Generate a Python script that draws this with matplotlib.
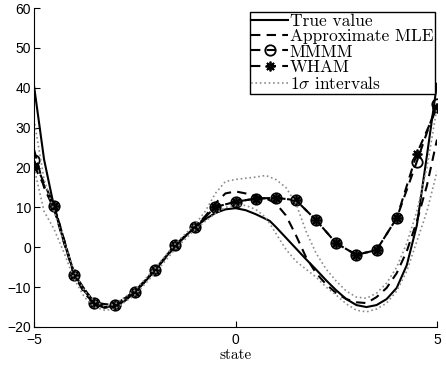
import matplotlib
matplotlib.use("Agg")
import matplotlib.pyplot as plt
from matplotlib.font_manager import FontProperties

plt.rcParams['mathtext.fontset'] = 'cm'
plt.rcParams['font.family'] = ['Liberation Sans', 'DejaVu Sans']

# true potential, sampled along the state axis (kink near 0.85)
x_true = [-5, -4.75, -4.5, -4.25, -4, -3.75, -3.5, -3.25, -3, -2.75, -2.5, -2.25,
          -2, -1.75, -1.5, -1.25, -1, -0.75, -0.5, -0.25, 0, 0.25, 0.5, 0.75, 0.85,
          1, 1.25, 1.5, 1.75, 2, 2.25, 2.5, 2.75, 3, 3.25, 3.5, 3.75, 4, 4.25, 4.5,
          4.75, 5]
y_true = [40.5, 22, 10, 1, -6.5, -11, -13.8, -15, -14.8, -13.5, -11.3, -8.7,
          -5.8, -2.7, 0.3, 2.8, 5, 7, 8.6, 9.5, 9.8, 9.3, 8.3, 7.1, 6.6,
          5.1, 2.4, -0.3, -3.0, -5.6, -8.3, -10.8, -13.0, -14.5, -15.0, -14.5, -13.0, -10.2, -4.5, 5.5,
          23, 41]

# approximate MLE and its 1-sigma band
x_mle = [-5, -4.75, -4.5, -4.25, -4, -3.75, -3.5, -3.25, -3, -2.5, -2, -1.5, -1,
         -0.75, -0.5, -0.25, 0, 0.25, 0.5, 0.75, 1, 1.25, 1.5, 1.75, 2, 2.25, 2.5,
         2.75, 3, 3.25, 3.5, 3.75, 4, 4.25, 4.5, 4.75, 5]
y_mle = [24.5, 15, 9.5, 1, -7, -11.5, -14.2, -15.2, -14.8, -11.4, -5.8, 0.2, 5.2,
         7.8, 11, 13.5, 14, 13.5, 12.8, 12.3, 11, 8, 3, -2.5, -6.5, -9.3, -11.5,
         -13, -13.8, -14, -12.5, -10.2, -6.5, -1, 6.5, 15.5, 27]
y_upper = [32, 17, 9, 1, -6, -11, -13.5, -14.8, -14.3, -10.8, -5.3, 0.8, 5.8,
           9, 13.5, 16.5, 17, 17.3, 17.6, 18, 17, 15, 11, 4, -1.5, -5.5, -8.5,
           -11, -12.5, -12.8, -11.5, -9, -5, 1, 9, 20, 35]
y_lower = [20, 9, 4.5, -1.5, -8, -12.5, -15, -15.8, -15.5, -12, -6.5, -0.5, 4.5,
           6.5, 8.5, 10, 10.5, 10.5, 9.5, 7.5, 3.5, -0.5, -3.5, -5.5, -7.5, -10, -12,
           -14.2, -15.8, -16.2, -15.5, -14, -11, -6, 1.5, 9, 19]

# estimator values on the coarse grid
x_est = [-5, -4.5, -4, -3.5, -3, -2.5, -2, -1.5, -1, -0.5, 0, 0.5, 1, 1.5, 2,
         2.5, 3, 3.5, 4, 4.5, 5]
y_mmmm = [21.8, 10.4, -6.9, -14.0, -14.5, -11.1, -5.7, 0.6, 5.0, 10.1, 11.4,
          12.2, 12.4, 11.8, 6.8, 1.0, -1.9, -0.7, 7.3, 21.5, 36.0]
y_wham = [20.5, 10.4, -6.9, -14.0, -14.5, -11.1, -5.7, 0.6, 5.0, 10.1, 11.4,
          12.2, 12.4, 11.8, 6.8, 1.0, -1.9, -0.7, 7.3, 23.5, 35.0]

fig = plt.figure(figsize=(4.46, 3.66), dpi=100)
ax = fig.add_axes([34 / 446, 39 / 366, 403 / 446, 319 / 366])

ax.plot(x_true, y_true, '-', color='k', lw=1.5, label='True value')
ax.plot(x_mle, y_mle, '--', color='k', lw=1.5, dashes=(4.5, 3), label='Approximate MLE')
ax.plot(x_est, y_mmmm, '--', color='k', lw=1.5, dashes=(4.5, 3), marker='o',
        mfc='none', mec='k', ms=7.5, mew=1.3, label='MMMM')
ax.plot(x_est, y_wham, '--', color='k', lw=1.5, dashes=(4.5, 3), marker=(8, 2, 0),
        ms=7, mew=1.3, label='WHAM')
ax.plot(x_mle, y_upper, ':', color='0.55', lw=1.2, label=r'1$\sigma$ intervals')
ax.plot(x_mle, y_lower, ':', color='0.55', lw=1.2)

ax.set_xlim(-5, 5)
ax.set_ylim(-20, 60)
ax.set_xticks([-5, 0, 5])
ax.set_yticks([-20, -10, 0, 10, 20, 30, 40, 50, 60])
ax.tick_params(direction='in', length=4, labelsize=10, width=0.8, pad=2)
ax.tick_params(axis='x', pad=4)
ax.spines['top'].set_visible(False)
ax.spines['right'].set_visible(False)
ax.set_xlabel('state', family='cmr10', fontsize=11, labelpad=1)

leg = ax.legend(loc='upper right', bbox_to_anchor=(0.995, 0.988),
                prop=FontProperties(family='cmr10', size=12.5),
                handlelength=2.1, handletextpad=0.1, labelspacing=0.0,
                borderpad=0.1, borderaxespad=0.0, fancybox=False, framealpha=1,
                edgecolor='k')
leg.get_frame().set_linewidth(1.0)

fig.savefig('out.png', dpi=100)
